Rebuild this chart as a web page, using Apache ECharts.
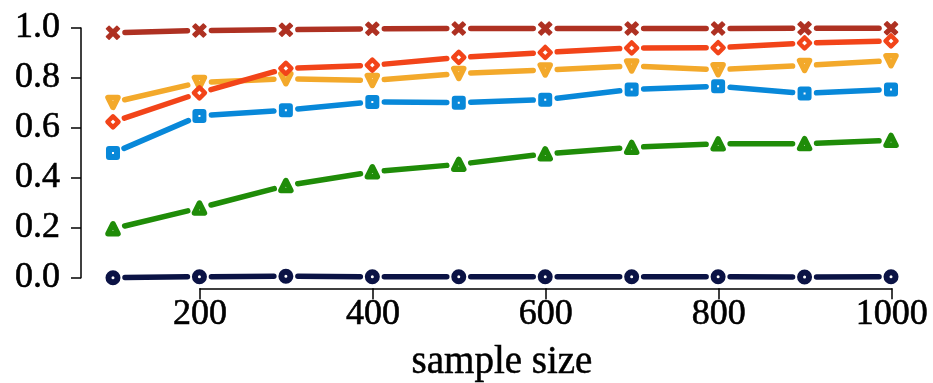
<!DOCTYPE html>
<html>
<head>
<meta charset="utf-8">
<script src="https://cdn.jsdelivr.net/npm/echarts@6/dist/echarts.min.js"></script>
<style>
html,body{margin:0;padding:0;background:#fff;}
#chart{width:933px;height:383px;}
</style>
</head>
<body>
<div id="chart"></div>
<script>
// ---- data ----
const sampleSizes = [100, 200, 300, 400, 500, 600, 700, 800, 900, 1000];
const xTicks = [200, 400, 600, 800, 1000];
const yTicks = [0.0, 0.2, 0.4, 0.6, 0.8, 1.0];
const xLabel = 'sample size';

const navyCircle   = [0.000, 0.004, 0.006, 0.004, 0.004, 0.004, 0.004, 0.004, 0.003, 0.004];
const greenTri     = [0.196, 0.279, 0.369, 0.424, 0.454, 0.496, 0.522, 0.536, 0.537, 0.550];
const blueSquare   = [0.499, 0.648, 0.671, 0.704, 0.701, 0.713, 0.754, 0.767, 0.738, 0.754];
const orangeTriDn  = [0.702, 0.782, 0.797, 0.790, 0.818, 0.832, 0.848, 0.833, 0.850, 0.869];
const redDiamond   = [0.624, 0.740, 0.838, 0.851, 0.882, 0.902, 0.920, 0.921, 0.940, 0.948];
const darkRedX     = [0.981, 0.990, 0.993, 0.997, 0.998, 0.998, 0.998, 0.998, 0.999, 0.999];

// ---- styling ----
const FONT = '"Liberation Serif", "DejaVu Serif", serif';
const xPath = 'path://M2,0 L5,3 L8,0 L10,2 L7,5 L10,8 L8,10 L5,7 L2,10 L0,8 L3,5 L0,2 Z';
const labelStyle = {fontFamily: FONT, fontSize: 36, color: '#000', textBorderColor: '#000', textBorderWidth: 0.6};
const GAP = 12;      // distance (px) between a marker centre and the end of its line segments
const LINE_W = 5.5;

// drawing order of markers: later entries on top
const seriesDefs = [
  {values: navyCircle,  color: '#0b1345', symbol: 'circle',   size: 9,   border: 6,   rotate: 0},
  {values: greenTri,    color: '#1f8c08', symbol: 'triangle', size: 10,  border: 5.5, rotate: 0},
  {values: blueSquare,  color: '#0888d9', symbol: 'rect',     size: 8,   border: 6,   rotate: 0},
  {values: orangeTriDn, color: '#f3a92b', symbol: 'triangle', size: 10,  border: 5.5, rotate: 180},
  {values: darkRedX,    color: '#ae3122', symbol: xPath,      size: 13,  border: 1.5, rotate: 0, solid: true},
  {values: redDiamond,  color: '#f24419', symbol: 'diamond',  size: 11,  border: 4.5, rotate: 0}
];

function segmentRenderer(color) {
  return function (params, api) {
    const p0 = api.coord([api.value(0), api.value(1)]);
    const p1 = api.coord([api.value(2), api.value(3)]);
    const dx = p1[0] - p0[0], dy = p1[1] - p0[1];
    const len = Math.sqrt(dx * dx + dy * dy);
    if (len <= 2 * GAP) return null;
    const ux = dx / len, uy = dy / len;
    return {
      type: 'line',
      shape: {x1: p0[0] + ux * GAP, y1: p0[1] + uy * GAP, x2: p1[0] - ux * GAP, y2: p1[1] - uy * GAP},
      style: {stroke: color, lineWidth: LINE_W, lineCap: 'round'}
    };
  };
}

const series = [];
seriesDefs.forEach((d, i) => {
  const points = sampleSizes.map((x, k) => [x, d.values[k]]);
  const segs = [];
  for (let k = 0; k < points.length - 1; k++) {
    segs.push([points[k][0], points[k][1], points[k + 1][0], points[k + 1][1]]);
  }
  series.push({
    type: 'custom', data: segs, xAxisIndex: 0, yAxisIndex: 0,
    renderItem: segmentRenderer(d.color), silent: true, animation: false,
    encode: {x: [0, 2], y: [1, 3]},
    z: 2 + i * 0.01
  });
  series.push({
    type: 'scatter', data: points, xAxisIndex: 0, yAxisIndex: 0,
    symbol: d.symbol, symbolSize: d.size, symbolRotate: d.rotate, silent: true, animation: false,
    itemStyle: d.solid ? {color: d.color, borderColor: d.color, borderWidth: d.border, borderJoin: 'round', opacity: 1}
                       : {color: '#ffffff', borderColor: d.color, borderWidth: d.border, borderJoin: 'round', opacity: 1},
    z: 5 + i
  });
});

const chart = echarts.init(document.getElementById('chart'), null, {renderer: 'canvas'});
chart.setOption({
  backgroundColor: '#ffffff',
  animation: false,
  grid: [
    {left: 81, right: 10, top: 28, bottom: 105.3, containLabel: false, outerBoundsMode: 'none'},
    {left: 200, right: 41.3, top: 28, bottom: 94.7, containLabel: false, outerBoundsMode: 'none'}
  ],
  xAxis: [
    {
      type: 'value', gridIndex: 0, min: 63, max: 1037,
      axisLine: {show: false}, axisTick: {show: false}, axisLabel: {show: false}, splitLine: {show: false},
      name: xLabel, nameLocation: 'middle', nameGap: 66,
      nameTextStyle: {fontFamily: FONT, fontSize: 39, color: '#000', textBorderColor: '#000', textBorderWidth: 0.5}
    },
    {
      type: 'value', gridIndex: 1, min: xTicks[0], max: xTicks[xTicks.length - 1], interval: 200,
      axisLine: {show: true, lineStyle: {color: '#000', width: 1.5}},
      axisTick: {show: true, inside: false, length: 11, lineStyle: {color: '#000', width: 1.5}},
      axisLabel: Object.assign({show: true, margin: 8, formatter: v => String(v)}, labelStyle),
      splitLine: {show: false}
    }
  ],
  yAxis: [
    {
      type: 'value', gridIndex: 0, min: yTicks[0], max: yTicks[yTicks.length - 1], interval: 0.2,
      axisLine: {show: true, lineStyle: {color: '#000', width: 1.5}},
      axisTick: {show: true, inside: false, length: 10, lineStyle: {color: '#000', width: 1.5}},
      axisLabel: Object.assign({show: true, margin: 21, formatter: v => v.toFixed(1)}, labelStyle),
      splitLine: {show: false}
    },
    {
      type: 'value', gridIndex: 1, min: 0, max: 1, show: false
    }
  ],
  series: series
});
</script>
</body>
</html>
